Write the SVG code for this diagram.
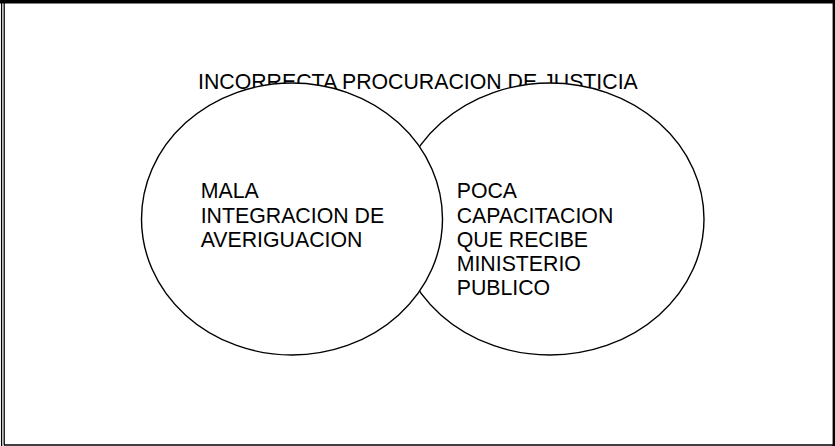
<svg xmlns="http://www.w3.org/2000/svg" width="835" height="446" viewBox="0 0 835 446">
<style>
.t{font-family:"Liberation Sans",Arial,sans-serif;font-size:21.3px;fill:#000}
.e{fill:#fff;stroke:#000;stroke-width:1.4}
.b{stroke:#000;fill:none}
</style>
<rect width="835" height="446" fill="#fff"/>
<g id="frame">
<rect x="0" y="0" width="835" height="3.5" fill="#000"/>
<line class="b" x1="1.6" y1="0" x2="1.6" y2="446" stroke-width="1.3"/>
<line class="b" x1="4.2" y1="3" x2="4.2" y2="445.3" stroke-width="1.3"/>
<line class="b" x1="4" y1="445" x2="833" y2="445" stroke-width="1.5"/>
<rect x="832.6" y="0" width="2.4" height="446" fill="#000"/>
</g>
<g id="title"><text class="t" x="198" y="89.3">INCORRECTA PROCURACION DE JUSTICIA</text></g>
<g id="connectors"></g>
<g id="node-right">
<ellipse class="e" cx="550" cy="219" rx="154" ry="136"/>
<text class="t" x="456.7" y="198.3">POCA<tspan x="456.7" dy="24.2">CAPACITACION</tspan><tspan x="456.7" dy="24.2">QUE RECIBE</tspan><tspan x="456.7" dy="24.2">MINISTERIO</tspan><tspan x="456.7" dy="24.2">PUBLICO</tspan></text>
</g>
<g id="node-left">
<ellipse class="e" cx="292" cy="219" rx="150.5" ry="136"/>
<text class="t" x="200.7" y="198.3">MALA<tspan x="200.7" dy="24.2">INTEGRACION DE</tspan><tspan x="200.7" dy="24.2">AVERIGUACION</tspan></text>
</g>
</svg>
